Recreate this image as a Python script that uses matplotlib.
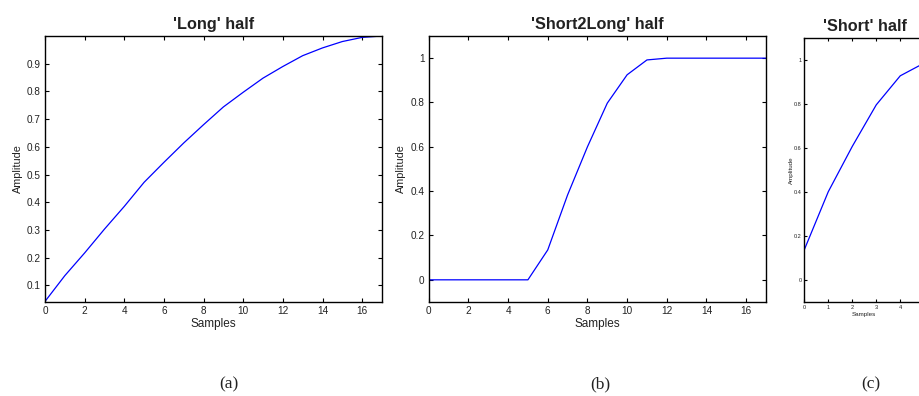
import matplotlib
matplotlib.use('Agg')
from matplotlib import pyplot as plt

# window halves
long_x = list(range(18))
long_y = [0.042, 0.135, 0.217, 0.303, 0.385, 0.472, 0.544, 0.614, 0.680, 0.744,
          0.797, 0.848, 0.890, 0.929, 0.957, 0.980, 0.995, 1.0]

s2l_x = list(range(18))
s2l_y = [0, 0, 0, 0, 0, 0, 0.135, 0.383, 0.600, 0.797, 0.925, 0.992,
         1.0, 1.0, 1.0, 1.0, 1.0, 1.0]

short_x = list(range(8))
short_y = [0.136, 0.400, 0.606, 0.795, 0.927, 0.985, 1.0, 1.0]

titles = ["'Long' half", "'Short2Long' half", "'Short' half"]
captions = ['(a)', '(b)', '(c)']

plt.rcParams['font.family'] = ['Liberation Sans', 'DejaVu Sans']
ink = '#222222'

fig = plt.figure(figsize=(9.2, 3.96), dpi=100)


def style(ax, size):
    ax.tick_params(direction='in', top=True, right=True, length=3, width=0.8,
                   labelsize=size, colors='black', labelcolor=ink, pad=3)
    for s in ax.spines.values():
        s.set_linewidth(1.0)


ax = fig.add_axes([0.0489, 0.2374, 0.3663, 0.6717])
ax.plot(long_x, long_y, color='#0000ff', lw=0.9)
ax.set_xlim(0, 17)
ax.set_ylim(0.04, 1.0)
ax.set_xticks(range(0, 17, 2))
ax.set_yticks([0.1, 0.2, 0.3, 0.4, 0.5, 0.6, 0.7, 0.8, 0.9])
style(ax, 7.2)
ax.set_title(titles[0], fontsize=11.7, fontweight='bold', color=ink, pad=5)
ax.set_xlabel('Samples', fontsize=8.5, color=ink, labelpad=1.5)
ax.set_ylabel('Amplitude', fontsize=7.8, color=ink, labelpad=3)

ax = fig.add_axes([0.466, 0.2374, 0.3666, 0.6717])
ax.plot(s2l_x, s2l_y, color='#0000ff', lw=0.9)
ax.set_xlim(0, 17)
ax.set_ylim(-0.1, 1.1)
ax.set_xticks(range(0, 17, 2))
ax.set_yticks([0, 0.2, 0.4, 0.6, 0.8, 1])
ax.set_yticklabels(['0', '0.2', '0.4', '0.6', '0.8', '1'])
style(ax, 7.2)
ax.set_title(titles[1], fontsize=11.7, fontweight='bold', color=ink, pad=5)
ax.set_xlabel('Samples', fontsize=8.5, color=ink, labelpad=1.5)
ax.set_ylabel('Amplitude', fontsize=7.8, color=ink, labelpad=3)

ax = fig.add_axes([0.8742, 0.238, 0.1826, 0.6667])
ax.plot(short_x, short_y, color='#0000ff', lw=0.9)
ax.set_xlim(0, 7)
ax.set_ylim(-0.1, 1.1)
ax.set_xticks(range(0, 8))
# the panel runs past the right edge, only the first labels are visible
ax.set_xticklabels(['0', '1', '2', '3', '4', '', '', ''])
ax.set_yticks([0, 0.2, 0.4, 0.6, 0.8, 1])
ax.set_yticklabels(['0', '0.2', '0.4', '0.6', '0.8', '1'])
style(ax, 4)
ax.tick_params(length=2.5, pad=2)
ax.set_title(titles[2], fontsize=11.7, fontweight='bold', color=ink, pad=5, x=0.363)
ax.set_xlabel('Samples', fontsize=4.5, color=ink, labelpad=2, x=0.357, ha='center')
ax.set_ylabel('Amplitude', fontsize=4.5, color=ink, labelpad=0)

for x, c in zip([0.249, 0.652, 0.946], captions):
    fig.text(x, 0.03, c, ha='center', va='center', fontsize=12.5,
             family=['Liberation Serif', 'DejaVu Serif'], color=ink)

fig.savefig('out.png', dpi=100)
